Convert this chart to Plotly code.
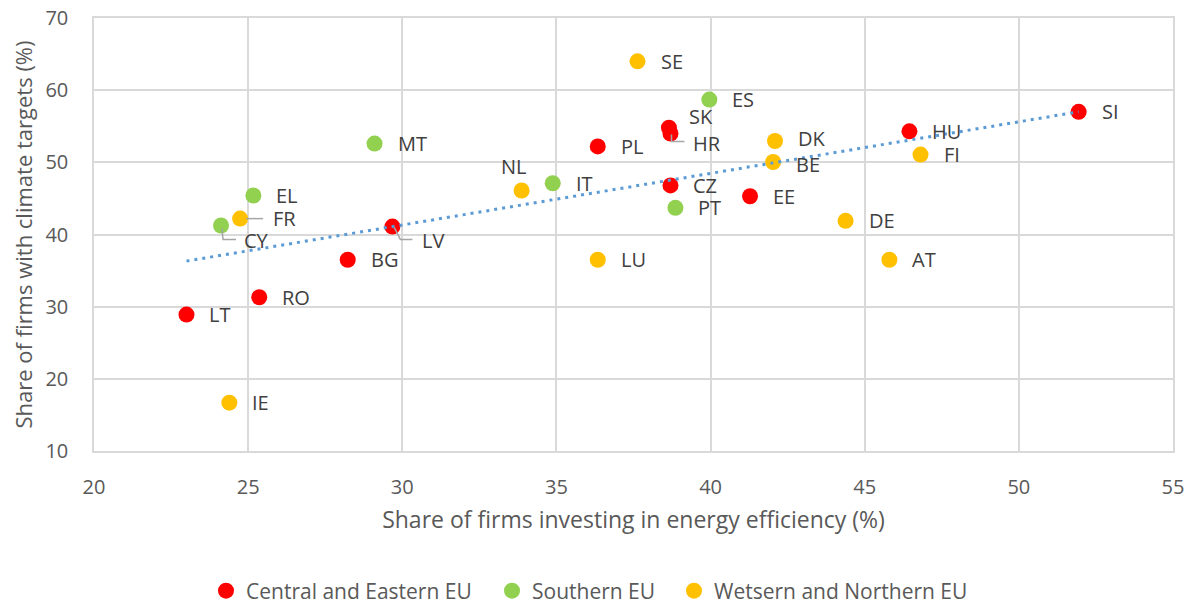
import numpy as np
import plotly.graph_objects as go

# ---------------- data ----------------
ce_names = ["SK", "HR", "PL", "CZ", "EE", "HU", "SI", "LV", "BG", "RO", "LT"]
ce_x = [38.65, 38.70, 36.34, 38.70, 41.28, 46.45, 51.94, 29.68, 28.23, 25.36, 23.00]
ce_y = [54.8, 54.0, 52.2, 46.8, 45.3, 54.3, 57.0, 41.1, 36.5, 31.3, 28.9]

s_names = ["ES", "MT", "IT", "PT", "EL", "CY"]
s_x = [39.96, 29.10, 34.88, 38.86, 25.17, 24.12]
s_y = [58.7, 52.6, 47.1, 43.7, 45.4, 41.25]

wn_names = ["SE", "DK", "BE", "FI", "NL", "LU", "DE", "AT", "FR", "IE"]
wn_x = [37.63, 42.09, 42.03, 46.81, 33.87, 36.34, 44.38, 45.80, 24.74, 24.39]
wn_y = [64.0, 52.96, 50.05, 51.07, 46.1, 36.5, 41.9, 36.5, 42.2, 16.7]

series_names = ["Central and Eastern EU", "Southern EU", "Wetsern and Northern EU"]
x_ticks = [20, 25, 30, 35, 40, 45, 50, 55]
y_ticks = [10, 20, 30, 40, 50, 60, 70]

# ---------------- styles ----------------
colors = ["#FF0000", "#92D050", "#FFC000"]
FONT = "Open Sans"
TXT = "#404040"
AX = "#595959"
GRID = "#D9D9D9"
W, H = 1189, 600   # page adds an 8px body margin

# label offsets in pixels (dx from point to text left, dy upward)
label_offset = {
    "SK": (18, 11), "HR": (21, -10), "NL": (None, 24),
    "CY": (21, -15), "FR": (31, 0), "LV": (28, -14),
    "DK": (21, 2), "BE": (21, -3),
}
# leader lines (pixel paths relative to the point, y upward)
leaders = {
    "HR": "M1,-1 L1,-8 L14,-8",
    "CY": "M1,-3 L2,-14 L15,-14",
    "FR": "M6,0 L23,0",
    "LV": "M2,-1 L8,-13 L20,-13",
}
legend_ids = ["legend", "legend2", "legend3"]
legend_x_px = [198, 484, 666]

fig = go.Figure()
groups = [(ce_names, ce_x, ce_y), (s_names, s_x, s_y), (wn_names, wn_x, wn_y)]
for (names, xs, ys), nm, col, lg in zip(groups, series_names, colors, legend_ids):
    fig.add_trace(go.Scatter(
        x=xs, y=ys, mode="markers", name=nm, legend=lg,
        marker=dict(size=16, color=col, line=dict(width=0)),
        hovertext=names,
    ))

# linear trendline over all points
all_x = np.array(ce_x + s_x + wn_x)
all_y = np.array(ce_y + s_y + wn_y)
slope, icpt = np.polyfit(all_x, all_y, 1)
tx = np.array([all_x.min(), all_x.max()])
fig.add_trace(go.Scatter(
    x=tx, y=slope * tx + icpt, mode="lines", showlegend=False,
    line=dict(color="#5B9BD5", width=3, dash="3px,5px"), hoverinfo="skip",
))

# labels
for names, xs, ys in groups:
    for n, xv, yv in zip(names, xs, ys):
        dx, dy = label_offset.get(n, (21, 0))
        if dx is None:
            fig.add_annotation(x=xv, y=yv, text=n, showarrow=False,
                               xanchor="center", yanchor="middle",
                               xshift=-8, yshift=dy,
                               font=dict(family=FONT, size=20, color=TXT))
        else:
            fig.add_annotation(x=xv, y=yv, text=n, showarrow=False,
                               xanchor="left", yanchor="middle",
                               xshift=dx, yshift=dy,
                               font=dict(family=FONT, size=20, color=TXT))
        if n in leaders:
            fig.add_shape(type="path", xref="x", yref="y",
                          xsizemode="pixel", ysizemode="pixel",
                          xanchor=xv, yanchor=yv, path=leaders[n],
                          line=dict(color="#A6A6A6", width=1.5))

legend_common = dict(orientation="h", xref="container", yref="container",
                     xanchor="left", y=1 - 583 / H, yanchor="middle",
                     font=dict(size=21, color=AX), itemwidth=30,
                     bgcolor="rgba(0,0,0,0)")
fig.update_layout(
    width=W, height=H,
    margin=dict(l=86, r=24, t=10, b=157, autoexpand=False),
    paper_bgcolor="white", plot_bgcolor="white",
    font=dict(family=FONT, color=AX, size=19),
    legend=dict(x=legend_x_px[0] / W, **legend_common),
    legend2=dict(x=legend_x_px[1] / W, **legend_common),
    legend3=dict(x=legend_x_px[2] / W, **legend_common),
)
fig.update_xaxes(
    range=[20, 55], tickvals=x_ticks, showgrid=True, gridcolor=GRID, gridwidth=1.5,
    showline=True, linecolor=GRID, linewidth=1.5, mirror=True, zeroline=False,
    automargin=False, ticklabeloverflow="allow",
    ticks="", ticklabelstandoff=17, tickfont=dict(size=20, color=AX),
    title=dict(text="Share of firms investing in energy efficiency (%)",
               font=dict(size=23, color=AX), standoff=13),
)
fig.update_yaxes(
    range=[10, 70], tickvals=y_ticks, showgrid=True, gridcolor=GRID, gridwidth=1.5,
    showline=True, linecolor=GRID, linewidth=1.5, mirror=True, zeroline=False,
    automargin=False, ticklabeloverflow="allow",
    ticks="", ticklabelstandoff=20, tickfont=dict(size=20, color=AX),
    title=dict(text="Share of firms with climate targets (%)",
               font=dict(size=22, color=AX), standoff=8),
)

fig.write_html("out.html")
